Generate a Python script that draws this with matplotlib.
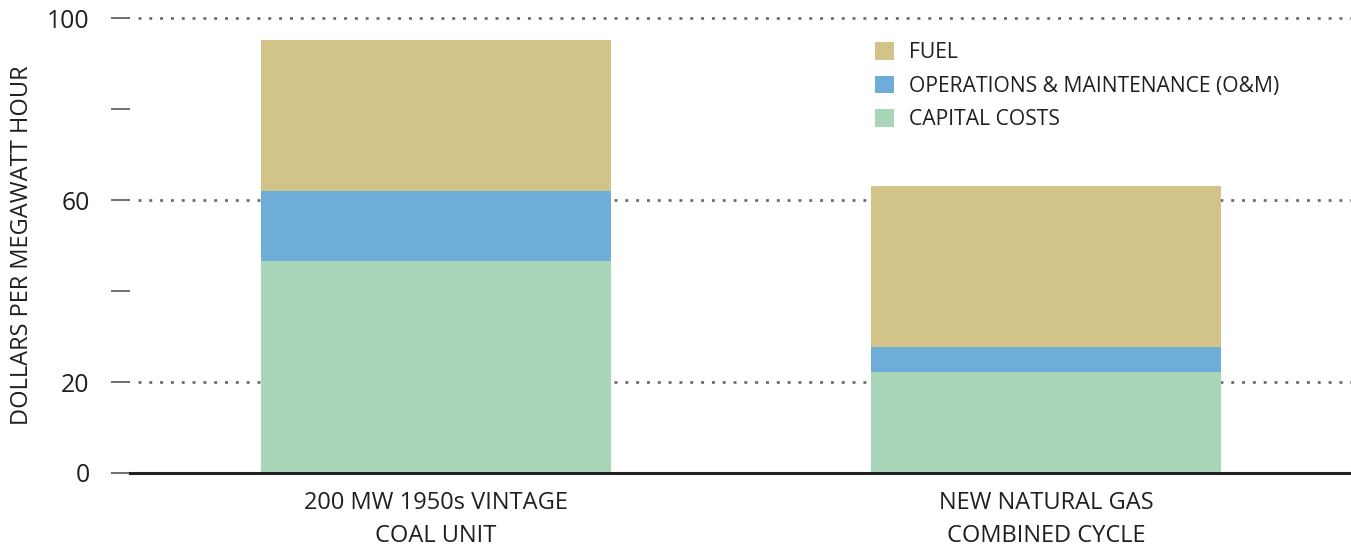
import matplotlib
matplotlib.use("Agg")

import matplotlib.pyplot as plt

# data (dollars per MWh)
categories = ["200 MW 1950s VINTAGE\nCOAL UNIT", "NEW NATURAL GAS\nCOMBINED CYCLE"]
capital = [46.6, 22.2]
om = [15.4, 5.5]
fuel = [33.2, 35.4]

series_names = ["CAPITAL COSTS", "OPERATIONS & MAINTENANCE (O&M)", "FUEL"]
colors = ["#a9d6b9", "#6fadd9", "#d2c488"]

major_ticks = [0, 20, 60, 100]
minor_ticks = [40, 80]
grid_levels = [20, 60, 100]

plt.rcParams["font.family"] = ["Open Sans", "DejaVu Sans"]

W, H = 1351, 546
fig = plt.figure(figsize=(W / 100, H / 100), dpi=100)
ax = fig.add_axes([130 / W, (H - 473) / H, (W - 130) / W, (473 - 18) / H])

x = list(range(len(categories)))
width = 0.573

# dotted gridlines, start a bit right of the axis
for lvl in grid_levels:
    ax.plot([-0.488, 1.499], [lvl, lvl], color="#666666", lw=1.9,
            dashes=(1.1, 3.0), zorder=1, clip_on=False)

bottom = [0, 0]
handles = []
for vals, name, col in zip([capital, om, fuel], series_names, colors):
    b = ax.bar(x, vals, width, bottom=bottom, color=col, label=name, zorder=2,
               linewidth=0)
    handles.append(b)
    bottom = [b0 + v for b0, v in zip(bottom, vals)]

ax.set_xlim(-0.501, 1.499)
ax.set_ylim(0, 100)

for s in ["top", "right", "left"]:
    ax.spines[s].set_visible(False)
ax.spines["bottom"].set_color("#222222")
ax.spines["bottom"].set_linewidth(2.2)
ax.spines["bottom"].set_zorder(3)

ax.set_yticks(major_ticks)
ax.set_yticks(minor_ticks, minor=True)
ax.tick_params(axis="y", which="both", length=14, width=1.2, color="#555555",
               labelsize=17.8, labelcolor="#231f20", pad=15)
ax.set_xticks(x)
ax.set_xticklabels(categories, fontsize=17, color="#231f20", linespacing=1.5)
ax.tick_params(axis="x", length=0, pad=13)

ax.set_ylabel("DOLLARS PER MEGAWATT HOUR", fontsize=17, color="#231f20")
ax.yaxis.set_label_coords(-(130 - 34) / (W - 130), 0.5)

leg = ax.legend(handles[::-1], series_names[::-1], loc="upper left",
                bbox_to_anchor=(875 / W, (H - 42) / H), bbox_transform=fig.transFigure,
                frameon=False, fontsize=15.2, handlelength=0.9, handleheight=0.9,
                handletextpad=0.7, labelspacing=0.6, borderaxespad=0,
                borderpad=0)
for t in leg.get_texts():
    t.set_color("#231f20")

fig.savefig("out.png", dpi=100)
